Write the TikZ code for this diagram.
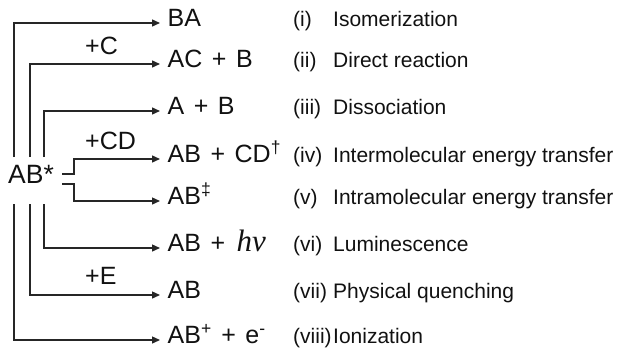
\documentclass[tikz,border=0pt]{standalone}
\usepackage{fontspec}
\setmainfont{Liberation Sans}
\newfontfamily\photonfont{Liberation Serif}
\usetikzlibrary{arrows.meta}
\definecolor{linegray}{HTML}{262626}
\definecolor{ink}{HTML}{111111}
% a widely spaced plus sign between species
\newcommand\withplus{\hspace{9.5pt}+\hspace{9.5pt}}

\begin{document}
\begin{tikzpicture}[x=1pt,y=-1pt,
  wire/.style={draw=linegray, line width=1.4pt},
  link/.style={wire, -{Triangle[length=8pt,width=7pt]}},
  big/.style={font=\fontsize{25}{25}\selectfont, text=ink, text height=0.75em, text depth=0.03em},
  small/.style={font=\fontsize{21}{21}\selectfont, text=ink, text height=0.75em, text depth=0.03em},
  prod/.style={big, anchor=west, inner xsep=7.5pt, inner ysep=0pt},
  cond/.style={big, anchor=west, inner sep=0pt},
  num/.style={small, anchor=west, inner sep=0pt},
  desc/.style={small, anchor=west, inner sep=0pt}
]
\useasboundingbox (0,0) rectangle (620,348);

% excited molecule
\node[cond, font=\fontsize{26.5}{26.5}\selectfont] (ab) at (8,180) {AB*};

% products
\node[prod] (p1) at (160,23)  {BA};
\node[prod] (p2) at (160,64)  {AC\withplus B};
\node[prod] (p3) at (160,111) {A\withplus B};
\node[prod] (p4) at (160,159) {AB\withplus CD\textsuperscript{†}};
\node[prod] (p5) at (160,201) {AB\textsuperscript{‡}};
\node[prod] (p6) at (160,248) {AB\withplus\kern2pt{\photonfont\itshape\fontsize{31}{31}\selectfont hν}};
\node[prod] (p7) at (160,295) {AB};
\node[prod] (p8) at (160,340) {AB\textsuperscript{+}\withplus e\textsuperscript{-}};

% reaction partners written above the arrows
\node[cond] (c2) at (85,51)  {+C};
\node[cond] (c4) at (85,146) {+CD};
\node[cond] (c7) at (85,281) {+E};

% numbering and process names
\node[num] (n1) at (293,23)  {(i)};
\node[num] (n2) at (293,64)  {(ii)};
\node[num] (n3) at (293,111) {(iii)};
\node[num] (n4) at (293,159) {(iv)};
\node[num] (n5) at (293,201) {(v)};
\node[num] (n6) at (293,248) {(vi)};
\node[num] (n7) at (293,295) {(vii)};
\node[num] (n8) at (293,340) {(viii)};

\node[desc] (d1) at (333,23)  {Isomerization};
\node[desc] (d2) at (333,64)  {Direct reaction};
\node[desc] (d3) at (333,111) {Dissociation};
\node[desc] (d4) at (333,159) {Intermolecular energy transfer};
\node[desc] (d5) at (333,201) {Intramolecular energy transfer};
\node[desc] (d6) at (333,248) {Luminescence};
\node[desc] (d7) at (333,295) {Physical quenching};
\node[desc] (d8) at (333,340) {Ionization};

% branch starting points around AB*
\coordinate (u1) at (14,157);
\coordinate (u2) at (30,157);
\coordinate (u3) at (44,157);
\coordinate (l6) at (44,204);
\coordinate (l7) at (30,204);
\coordinate (l8) at (14,204);
\coordinate (s4) at (62,174);
\coordinate (k4) at (74,174);
\coordinate (s5) at (62,184);
\coordinate (k5) at (74,184);

% connectors
\draw[link] (u1) |- (p1);
\draw[link] (u2) |- (p2);
\draw[link] (u3) |- (p3);
\draw[link] (s4) -- (k4) |- (p4);
\draw[link] (s5) -- (k5) |- (p5);
\draw[link] (l6) |- (p6);
\draw[link] (l7) |- (p7);
\draw[link] (l8) |- (p8);
\end{tikzpicture}
\end{document}
